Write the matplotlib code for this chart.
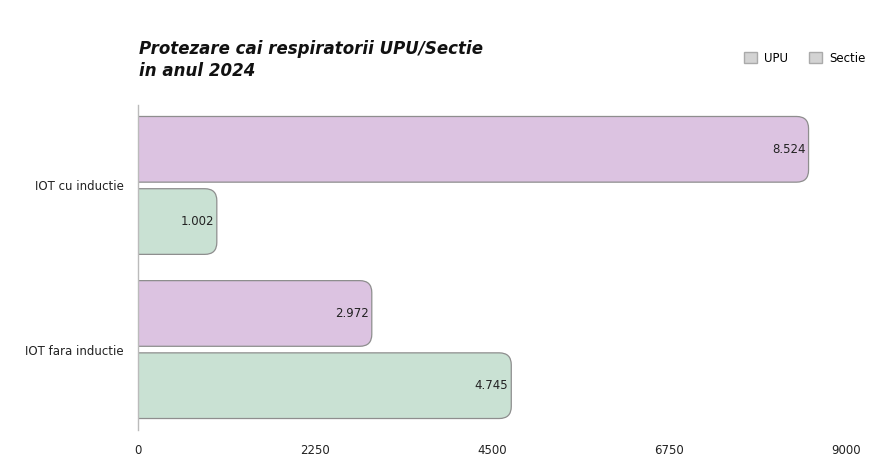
import matplotlib
matplotlib.use('Agg')
import matplotlib.pyplot as plt
from matplotlib.patches import FancyBboxPatch, Patch

categories = ['IOT cu inductie', 'IOT fara inductie']
upu = [8524, 2972]
sectie = [1002, 4745]
xticks = [0, 2250, 4500, 6750, 9000]

purple = '#dcc3e1'
green = '#c9e1d3'

fig = plt.figure(figsize=(8.72, 4.59), dpi=100)
ax = fig.add_axes([138 / 872, 1 - 430 / 459, 708 / 872, 325 / 459])

h = 0.40
off = 0.22
ypos = list(range(len(categories)))

def rounded_bars(vals, centers, color):
    bars = ax.barh(centers, vals, height=h, color='none', edgecolor='none')
    # corner radius ~12px, converted to data units
    r = 9000 * 12 / 708
    aspect = (1.98 / 325) / (9000 / 708)
    for b in bars:
        x0, y0 = b.get_x(), b.get_y()
        w, hh = b.get_width(), b.get_height()
        p = FancyBboxPatch((x0 - r, y0), w + r, hh,
                           boxstyle=f'round,pad=0,rounding_size={r}',
                           mutation_aspect=aspect,
                           facecolor=color, edgecolor='#8e8e8e', linewidth=0.9,
                           clip_on=True, zorder=2)
        ax.add_patch(p)
        ax.text(x0 + w - 40, y0 + hh / 2, f'{w / 1000:.3f}',
                ha='right', va='center', fontsize=8.5, color='#222222', zorder=3)
    return bars

rounded_bars(upu, [y - off for y in ypos], purple)
rounded_bars(sectie, [y + off for y in ypos], green)

ax.set_xlim(0, 9000)
ax.set_ylim(1.49, -0.49)
ax.set_xticks(xticks)
ax.set_xticklabels([str(t) for t in xticks], fontsize=8.5, color='#222222')
ax.set_yticks(ypos)
ax.set_yticklabels(categories, fontsize=8.5, color='#222222')
ax.tick_params(axis='y', length=0, pad=10)
ax.tick_params(axis='x', length=0, pad=10)
for s in ['top', 'right', 'bottom']:
    ax.spines[s].set_visible(False)
ax.spines['left'].set_color('#bbbbbb')
ax.spines['left'].set_linewidth(1)

fig.text(139 / 872, 1 - 60 / 459, 'Protezare cai respiratorii UPU/Sectie\nin anul 2024',
         fontsize=12, fontweight='bold', style='italic', family='DejaVu Sans',
         ha='left', va='center', linespacing=1.3, color='#111111')

handles = [Patch(facecolor='#d3d3d3', edgecolor='#aaaaaa', label='UPU'),
           Patch(facecolor='#d3d3d3', edgecolor='#aaaaaa', label='Sectie')]
fig.legend(handles=handles, loc='center left', bbox_to_anchor=(744 / 872, 1 - 58 / 459),
           ncol=2, frameon=False, fontsize=8.5, handlelength=1.1, handleheight=1.1,
           handletextpad=0.6, columnspacing=1.8, borderaxespad=0, borderpad=0)

fig.savefig('out.png', dpi=100, facecolor='white')
